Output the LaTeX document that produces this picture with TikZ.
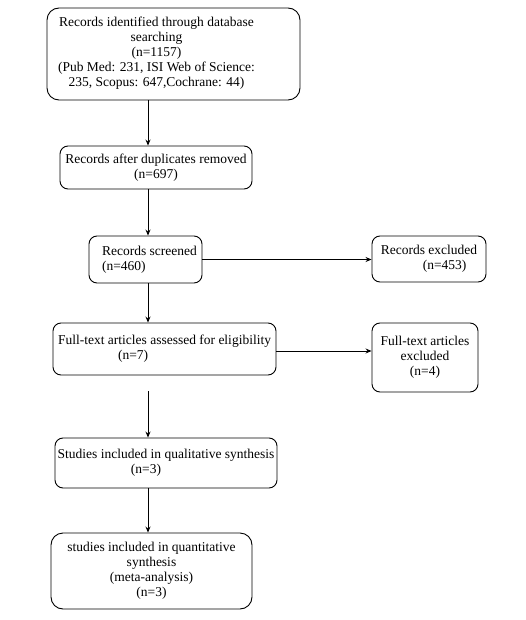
\documentclass[tikz,border=0pt]{standalone}
\usepackage{fontspec}
\setmainfont{Liberation Serif}
\usetikzlibrary{arrows.meta}
\newcommand\shiftedlines[2]{\hspace*{#1}\begin{tabular}{@{}c@{}}#2\end{tabular}}
\begin{document}
\begin{tikzpicture}[x=1pt,y=-1pt,
  box/.style={draw, line width=0.9pt, rounded corners=8pt, inner sep=0pt, align=center,
    font=\fontsize{13.5}{15}\selectfont},
  conn/.style={line width=0.9pt, -{Stealth[length=6pt,width=5pt]}}]
\useasboundingbox (0,0) rectangle (525,620);
\coordinate (t) at (148,0);
\node[box, rounded corners=12pt, minimum width=253pt, minimum height=92pt] (b1) at (173.5,54)
  {\shiftedlines{-34pt}{Records identified through database\\searching\\(n=1157)\\(Pub Med: 231, ISI Web of Science:\\235, Scopus: 647,Cochrane: 44)}};
\node[box, minimum width=192pt, minimum height=43pt] (b2) at (156,167.5)
  {Records after duplicates removed\\(n=697)};
\node[box, align=left, minimum width=113pt, minimum height=47pt] (b3) at (145.5,259.5)
  {Records screened\hspace*{-8pt}\\(n=460)};
\node[box, align=left, minimum width=114pt, minimum height=46pt] (e1) at (429,259)
  {Records excluded\\\hspace*{42pt}(n=453)};
\node[box, align=left, minimum width=223pt, minimum height=52pt] (b4) at (164.5,349)
  {Full-text articles assessed for eligibility\\\hspace*{60pt}(n=7)};
\node[box, minimum width=106pt, minimum height=69pt] (e2) at (425,357.5)
  {Full-text articles\\excluded\\(n=4)};
\node[box, minimum width=222pt, minimum height=50pt] (b5) at (166,463)
  {Studies included in qualitative synthesis\\\hspace*{-40pt}(n=3)};
\node[box, rounded corners=12pt, minimum width=201pt, minimum height=76pt] (b6) at (151.5,571)
  {studies included in quantitative\\synthesis\\(meta-analysis)\\(n=3)};
\coordinate (g) at (148,391);
\draw[conn] (b1.south -| t) -- (b2.north -| t);
\draw[conn] (b2.south -| t) -- (b3.north -| t);
\draw[conn] (b3.south -| t) -- (b4.north -| t);
\draw[conn] (b3.east) -- (b3.east -| e1.west);
\draw[conn] ([yshift=-2pt]b4.east) -- ([yshift=-2pt]b4.east -| e2.west);
\draw[conn] (g) -- (b5.north -| t);
\draw[conn] (b5.south -| t) -- (b6.north -| t);
\end{tikzpicture}
\end{document}
